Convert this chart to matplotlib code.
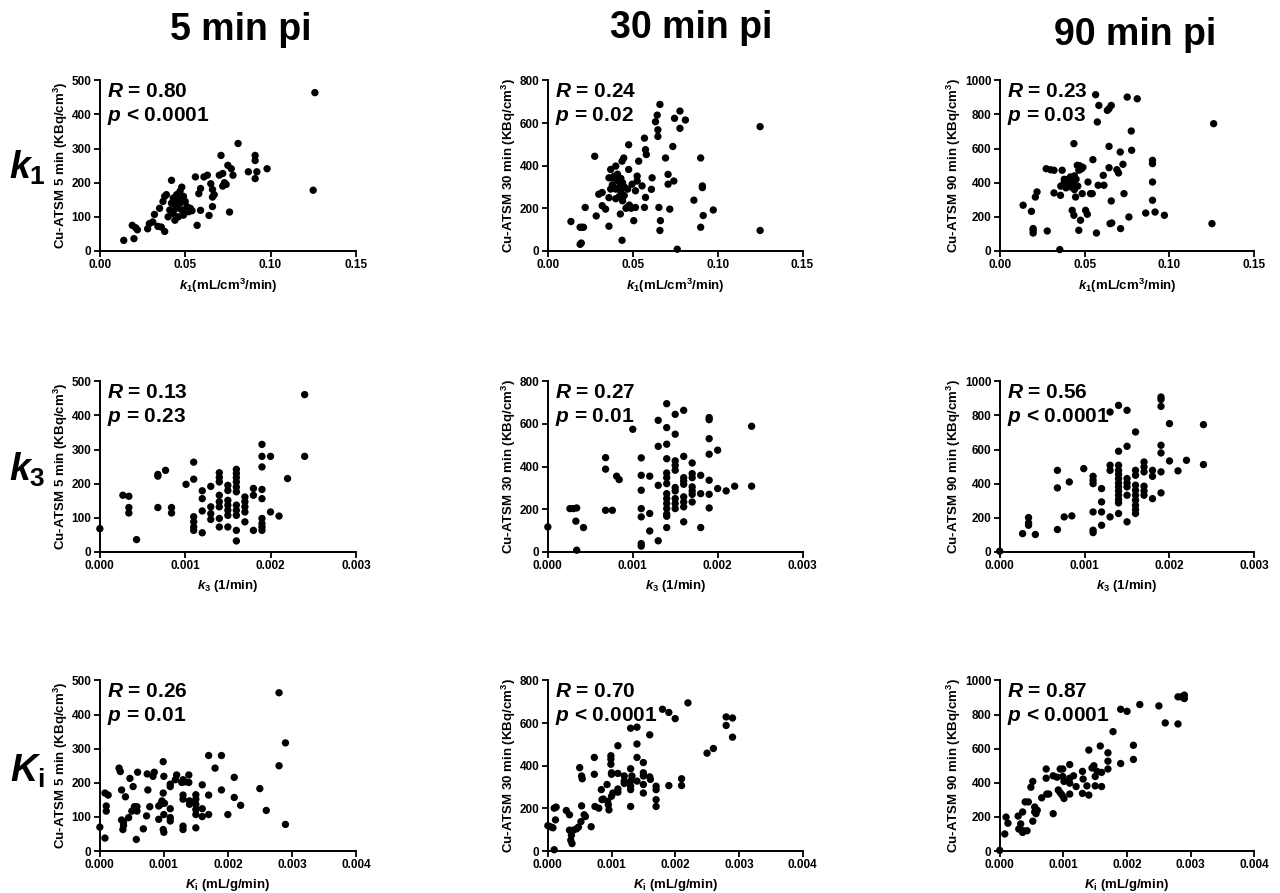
import numpy as np
import matplotlib
matplotlib.use("Agg")
import matplotlib.pyplot as plt
from matplotlib.ticker import FormatStrFormatter

plt.rcParams['font.family'] = ['Liberation Sans', 'DejaVu Sans']
plt.rcParams['font.weight'] = 'bold'
plt.rcParams['mathtext.fontset'] = 'custom'
plt.rcParams['mathtext.rm'] = 'Liberation Sans:bold'
plt.rcParams['mathtext.it'] = 'Liberation Sans:italic:bold'
plt.rcParams['mathtext.bf'] = 'Liberation Sans:bold'

# ---- data: (x, y) per panel ----
k1_5min = [(0.014, 31), (0.020, 36), (0.019, 75), (0.021, 68), (0.022, 62), (0.028, 65), (0.029, 80),
           (0.031, 85), (0.032, 107), (0.034, 72), (0.036, 70), (0.038, 57), (0.035, 125), (0.037, 145),
           (0.038, 160), (0.039, 165), (0.040, 100), (0.041, 120), (0.042, 207), (0.042, 140), (0.043, 155),
           (0.043, 110), (0.044, 90), (0.044, 135), (0.045, 165), (0.045, 125), (0.046, 150), (0.046, 100),
           (0.047, 175), (0.047, 140), (0.048, 187), (0.048, 120), (0.049, 160), (0.049, 105), (0.050, 145),
           (0.051, 130), (0.052, 115), (0.053, 125), (0.054, 118), (0.056, 217), (0.057, 75), (0.058, 168),
           (0.059, 183), (0.059, 119), (0.061, 217), (0.063, 222), (0.064, 104), (0.065, 197), (0.066, 180),
           (0.066, 158), (0.066, 130), (0.067, 165), (0.071, 280), (0.070, 222), (0.072, 227), (0.072, 190),
           (0.073, 200), (0.074, 195), (0.075, 251), (0.076, 114), (0.077, 241), (0.078, 222), (0.081, 315),
           (0.087, 232), (0.091, 280), (0.091, 265), (0.091, 212), (0.092, 232), (0.098, 241), (0.125, 178),
           (0.126, 464)]

k1_30min = [(0.0136, 138), (0.019, 111), (0.020, 111), (0.021, 111), (0.019, 31), (0.0197, 37), (0.022, 204),
            (0.0276, 444), (0.0285, 164), (0.030, 266), (0.032, 274), (0.032, 212), (0.034, 196), (0.036, 343),
            (0.037, 382), (0.038, 343), (0.036, 116), (0.040, 398), (0.0437, 421), (0.0447, 436), (0.0437, 50),
            (0.0427, 173), (0.0476, 382), (0.0476, 498), (0.0467, 204), (0.0506, 142), (0.0516, 204),
            (0.0496, 313), (0.0526, 351), (0.0526, 328), (0.0516, 282), (0.0535, 421), (0.0555, 305),
            (0.0569, 529), (0.0575, 475), (0.058, 452), (0.0575, 251), (0.0569, 204), (0.0614, 343),
            (0.061, 289), (0.0634, 606), (0.0644, 637), (0.0648, 568), (0.0648, 537), (0.066, 687),
            (0.0654, 204), (0.0663, 142), (0.066, 96), (0.0693, 436), (0.0708, 359), (0.0708, 313),
            (0.0718, 196), (0.0736, 490), (0.0742, 328), (0.0746, 622), (0.0762, 8), (0.0778, 656),
            (0.0778, 575), (0.081, 614), (0.086, 238), (0.090, 436), (0.090, 111), (0.091, 305), (0.091, 297),
            (0.0915, 166), (0.0974, 192), (0.125, 583), (0.125, 96), (0.037, 290), (0.038, 310), (0.039, 350),
            (0.040, 290), (0.041, 330), (0.041, 360), (0.042, 255), (0.042, 300), (0.043, 340), (0.043, 280),
            (0.044, 320), (0.044, 235), (0.045, 300), (0.045, 260), (0.046, 200), (0.047, 290), (0.048, 215),
            (0.049, 200), (0.040, 245), (0.036, 250)]

k1_90min = [(0.0138, 268), (0.0187, 232), (0.0197, 131), (0.0197, 105), (0.0197, 121), (0.021, 316),
            (0.022, 346), (0.028, 117), (0.0274, 482), (0.030, 476), (0.032, 473), (0.032, 340), (0.0354, 8),
            (0.0358, 326), (0.0368, 473), (0.0417, 434), (0.0437, 629), (0.0427, 238), (0.0437, 209),
            (0.0447, 316), (0.0457, 502), (0.0466, 473), (0.0466, 121), (0.0476, 180), (0.0486, 336),
            (0.0506, 238), (0.0516, 215), (0.052, 404), (0.0535, 336), (0.0545, 336), (0.0549, 535),
            (0.057, 105), (0.0565, 916), (0.0575, 756), (0.0584, 853), (0.058, 385), (0.061, 443),
            (0.0614, 385), (0.0634, 824), (0.0644, 834), (0.0657, 853), (0.0644, 613), (0.0644, 488),
            (0.065, 160), (0.066, 164), (0.0657, 293), (0.069, 476), (0.070, 457), (0.071, 580), (0.0712, 131),
            (0.0726, 508), (0.0732, 336), (0.0751, 902), (0.0761, 199), (0.0775, 703), (0.0777, 590),
            (0.081, 892), (0.086, 222), (0.090, 531), (0.090, 512), (0.090, 404), (0.090, 297), (0.0915, 228),
            (0.097, 209), (0.125, 160), (0.126, 746), (0.036, 380), (0.038, 400), (0.039, 370), (0.040, 420),
            (0.041, 390), (0.042, 375), (0.043, 400), (0.044, 440), (0.045, 420), (0.046, 380), (0.047, 500),
            (0.048, 480), (0.049, 490), (0.044, 360), (0.038, 420)]

k3_5min = [(0.0, 68), (0.00027, 166), (0.00034, 163), (0.00034, 130), (0.00034, 114), (0.00043, 36),
           (0.00068, 222), (0.00068, 227), (0.00077, 239), (0.00068, 130), (0.00084, 130), (0.00084, 114),
           (0.00101, 198), (0.0011, 263), (0.0011, 213), (0.0011, 103), (0.0011, 88), (0.0011, 73), (0.0011, 63),
           (0.0012, 179), (0.0012, 156), (0.0012, 120), (0.0012, 56), (0.0013, 192), (0.0013, 132),
           (0.0013, 112), (0.0013, 95), (0.0014, 232), (0.0014, 218), (0.0014, 205), (0.0014, 166),
           (0.0014, 147), (0.0014, 132), (0.0014, 98), (0.0014, 73), (0.0015, 195), (0.0015, 180),
           (0.0015, 151), (0.0015, 137), (0.0015, 122), (0.0015, 107), (0.0015, 73), (0.0016, 242),
           (0.0016, 230), (0.0016, 218), (0.0016, 205), (0.0016, 190), (0.0016, 176), (0.0016, 137),
           (0.0016, 122), (0.0016, 107), (0.0016, 63), (0.0016, 32), (0.0017, 161), (0.0017, 147),
           (0.0017, 132), (0.0017, 117), (0.0017, 88), (0.0018, 186), (0.0018, 166), (0.0018, 63),
           (0.0019, 315), (0.0019, 280), (0.0019, 249), (0.0019, 183), (0.0019, 156), (0.0019, 98),
           (0.0019, 83), (0.0019, 73), (0.0019, 63), (0.002, 280), (0.002, 117), (0.0021, 105), (0.0022, 215),
           (0.0024, 461), (0.0024, 280)]

k3_30min = [(0.0, 117), (0.00026, 203), (0.0003, 203), (0.00034, 206), (0.00033, 144), (0.00034, 8),
            (0.00042, 114), (0.00068, 442), (0.00068, 388), (0.00068, 195), (0.00076, 195), (0.00081, 355),
            (0.00084, 339), (0.001, 575), (0.0011, 441), (0.0011, 359), (0.0011, 289), (0.0011, 203),
            (0.0011, 164), (0.0011, 39), (0.0011, 27), (0.0012, 355), (0.0012, 180), (0.0012, 98), (0.0013, 617),
            (0.0013, 495), (0.0013, 312), (0.0013, 52), (0.0014, 695), (0.0014, 583), (0.0014, 505),
            (0.0014, 437), (0.0014, 370), (0.0014, 348), (0.0014, 320), (0.0014, 273), (0.0014, 250),
            (0.0014, 227), (0.0014, 203), (0.0014, 177), (0.0014, 167), (0.0014, 114), (0.0015, 645),
            (0.0015, 552), (0.0015, 427), (0.0015, 406), (0.0015, 383), (0.0015, 302), (0.0015, 286),
            (0.0015, 250), (0.0015, 227), (0.0015, 203), (0.0016, 664), (0.0016, 448), (0.0016, 348),
            (0.0016, 333), (0.0016, 317), (0.0016, 258), (0.0016, 234), (0.0016, 211), (0.0016, 141),
            (0.0017, 417), (0.0017, 367), (0.0017, 348), (0.0017, 305), (0.0017, 286), (0.0017, 270),
            (0.0017, 234), (0.0018, 359), (0.0018, 273), (0.0018, 114), (0.0019, 630), (0.0019, 620),
            (0.0019, 531), (0.0019, 458), (0.0019, 336), (0.0019, 270), (0.0019, 206), (0.002, 477),
            (0.002, 297), (0.0021, 286), (0.0022, 308), (0.0024, 589), (0.0024, 308)]

k3_90min = [(0.0, 4), (0.00027, 107), (0.00034, 201), (0.00034, 170), (0.00034, 156), (0.00042, 102),
            (0.00068, 478), (0.00068, 375), (0.00068, 131), (0.00076, 205), (0.00082, 410), (0.00085, 211),
            (0.00099, 488), (0.0011, 443), (0.0011, 420), (0.0011, 400), (0.0011, 234), (0.0011, 127),
            (0.0011, 113), (0.0012, 371), (0.0012, 293), (0.0012, 234), (0.0012, 156), (0.0013, 820),
            (0.0013, 508), (0.0013, 478), (0.0013, 205), (0.0014, 859), (0.0014, 590), (0.0014, 508),
            (0.0014, 478), (0.0014, 455), (0.0014, 430), (0.0014, 404), (0.0014, 381), (0.0014, 357),
            (0.0014, 332), (0.0014, 307), (0.0014, 287), (0.0014, 225), (0.0015, 830), (0.0015, 619),
            (0.0015, 430), (0.0015, 404), (0.0015, 381), (0.0015, 332), (0.0015, 176), (0.0016, 703),
            (0.0016, 478), (0.0016, 449), (0.0016, 391), (0.0016, 361), (0.0016, 332), (0.0016, 303),
            (0.0016, 273), (0.0016, 248), (0.0016, 225), (0.0017, 527), (0.0017, 498), (0.0017, 469),
            (0.0017, 385), (0.0017, 357), (0.0017, 332), (0.0018, 478), (0.0018, 443), (0.0018, 312),
            (0.0019, 908), (0.0019, 894), (0.0019, 853), (0.0019, 625), (0.0019, 580), (0.0019, 469),
            (0.0019, 346), (0.002, 752), (0.002, 533), (0.0021, 475), (0.0022, 537), (0.0024, 746),
            (0.0024, 512)]

ki_5min = [(0.0, 70), (0.00008, 38), (0.00008, 170), (0.00013, 164), (0.0001, 132), (0.0001, 117),
           (0.0003, 243), (0.00032, 233), (0.00034, 179), (0.00034, 91), (0.00037, 85), (0.00037, 75),
           (0.00036, 63), (0.0004, 159), (0.00045, 98), (0.00047, 213), (0.00052, 189), (0.0005, 117),
           (0.00054, 130), (0.00055, 122), (0.00057, 34), (0.00059, 231), (0.00058, 130), (0.00058, 117),
           (0.00068, 65), (0.00073, 103), (0.00074, 226), (0.00075, 179), (0.00078, 130), (0.00083, 219),
           (0.00085, 231), (0.00092, 93), (0.00092, 132), (0.00095, 137), (0.00099, 262), (0.001, 219),
           (0.00099, 170), (0.00097, 147), (0.00101, 140), (0.001, 107), (0.00099, 63), (0.001, 55),
           (0.0011, 189), (0.0011, 196), (0.0011, 124), (0.0011, 98), (0.0011, 88), (0.0012, 223),
           (0.00118, 209), (0.0013, 209), (0.00133, 203), (0.00128, 201), (0.0013, 164), (0.0013, 152),
           (0.0013, 73), (0.0013, 63), (0.00139, 223), (0.00139, 201), (0.0014, 147), (0.0014, 137),
           (0.0015, 165), (0.0015, 152), (0.0015, 137), (0.0015, 122), (0.0015, 107), (0.0015, 68),
           (0.0016, 194), (0.0016, 124), (0.0016, 101), (0.0017, 280), (0.0017, 164), (0.0017, 107),
           (0.0018, 243), (0.0019, 280), (0.0019, 179), (0.002, 107), (0.0021, 216), (0.0021, 157),
           (0.0022, 134), (0.0025, 183), (0.0026, 119), (0.0028, 464), (0.0028, 250), (0.0029, 317),
           (0.0029, 78)]

ki_30min = [(0.0, 119), (0.00004, 114), (0.00008, 109), (0.0001, 201), (0.00013, 206), (0.00012, 146),
            (0.0001, 6), (0.00029, 190), (0.00034, 170), (0.00034, 98), (0.00036, 51), (0.00038, 35),
            (0.00037, 74), (0.0004, 98), (0.00045, 104), (0.00048, 112), (0.0005, 391), (0.00053, 352),
            (0.00054, 339), (0.00053, 212), (0.00052, 138), (0.00057, 170), (0.00059, 162), (0.00068, 114),
            (0.00073, 439), (0.00073, 360), (0.00074, 209), (0.0008, 201), (0.00084, 288), (0.00085, 241),
            (0.00087, 244), (0.00093, 312), (0.00094, 233), (0.00095, 217), (0.00096, 193), (0.00099, 447),
            (0.00099, 431), (0.00099, 407), (0.001, 360), (0.001, 367), (0.001, 257), (0.00102, 272),
            (0.0011, 494), (0.0011, 364), (0.0011, 291), (0.0011, 276), (0.0012, 352), (0.0012, 328),
            (0.0012, 317), (0.0013, 209), (0.0013, 576), (0.0013, 386), (0.00132, 352), (0.0013, 328),
            (0.0013, 304), (0.0013, 288), (0.0014, 581), (0.0014, 502), (0.0014, 439), (0.0014, 328),
            (0.0015, 415), (0.0015, 367), (0.0015, 352), (0.0015, 312), (0.0015, 272), (0.0016, 545),
            (0.0016, 348), (0.00161, 336), (0.0017, 304), (0.0017, 288), (0.0017, 241), (0.0017, 209),
            (0.0018, 665), (0.0019, 650), (0.0019, 307), (0.002, 621), (0.0021, 339), (0.0021, 307),
            (0.0022, 695), (0.0025, 459), (0.0026, 481), (0.0028, 629), (0.0028, 589), (0.0029, 624),
            (0.0029, 534)]

ki_90min = [(0.0, 4), (0.00008, 100), (0.0001, 199), (0.00013, 163), (0.00029, 205), (0.0003, 129),
            (0.00033, 159), (0.00036, 109), (0.00037, 119), (0.00036, 229), (0.0004, 288), (0.00045, 288),
            (0.00043, 119), (0.00049, 374), (0.00052, 408), (0.00052, 175), (0.00055, 258), (0.00055, 229),
            (0.00057, 219), (0.00059, 239), (0.00066, 312), (0.00073, 481), (0.00073, 427), (0.00074, 334),
            (0.00077, 334), (0.00084, 219), (0.00084, 441), (0.0009, 433), (0.00092, 358), (0.00095, 481),
            (0.00099, 481), (0.00099, 437), (0.00101, 408), (0.00095, 342), (0.00098, 328), (0.00101, 308),
            (0.0011, 507), (0.0011, 427), (0.0011, 398), (0.0011, 334), (0.00116, 441), (0.0012, 378),
            (0.0013, 467), (0.00131, 422), (0.0013, 338), (0.00137, 382), (0.0014, 592), (0.0014, 328),
            (0.00145, 487), (0.00148, 500), (0.0015, 437), (0.00153, 467), (0.0015, 382), (0.00158, 616),
            (0.0016, 461), (0.0016, 378), (0.0017, 576), (0.0017, 527), (0.0017, 481), (0.00178, 700),
            (0.0019, 513), (0.0019, 831), (0.002, 819), (0.0021, 620), (0.0021, 537), (0.0022, 859),
            (0.0025, 851), (0.0026, 751), (0.0028, 904), (0.00285, 904), (0.0029, 914), (0.0029, 894),
            (0.0028, 745)]

R_text = [['0.80', '0.24', '0.23'], ['0.13', '0.27', '0.56'], ['0.26', '0.70', '0.87']]
p_text = [['< 0.0001', '= 0.02', '= 0.03'], ['= 0.23', '= 0.01', '< 0.0001'], ['= 0.01', '< 0.0001', '< 0.0001']]

panels = [[k1_5min, k1_30min, k1_90min], [k3_5min, k3_30min, k3_90min], [ki_5min, ki_30min, ki_90min]]

x_labels = [r'$k_1$(mL/cm$^3$/min)', r'$k_3$ (1/min)', r'$K_\mathrm{i}$ (mL/g/min)']
x_lims = [0.15, 0.003, 0.004]
x_ticks = [[0, 0.05, 0.10, 0.15], [0, 0.001, 0.002, 0.003], [0, 0.001, 0.002, 0.003, 0.004]]
x_fmt = ['%.2f', '%.3f', '%.3f']

y_labels = ['Cu-ATSM 5 min (KBq/cm$^3$)', 'Cu-ATSM 30 min (KBq/cm$^3$)', 'Cu-ATSM 90 min (KBq/cm$^3$)']
y_lims = [500, 800, 1000]
y_steps = [100, 200, 200]

col_titles = ['5 min pi', '30 min pi', '90 min pi']
row_titles = [r'$k_1$', r'$k_3$', r'$K_\mathrm{i}$']

fig = plt.figure(figsize=(12.8, 8.93), dpi=100)

lefts = [0.078, 0.428, 0.781]
widths = [0.200, 0.199, 0.199]
bottoms = [0.719, 0.382, 0.047]
height = 0.191

for r in range(3):
    for c in range(3):
        ax = fig.add_axes([lefts[c], bottoms[r], widths[c], height])
        pts = np.array(panels[r][c])
        ax.scatter(pts[:, 0], pts[:, 1], s=28, c='black', edgecolors='none', clip_on=False, zorder=3)
        ax.set_xlim(0, x_lims[r])
        ax.set_ylim(0, y_lims[c])
        ax.set_xticks(x_ticks[r])
        ax.set_yticks(np.arange(0, y_lims[c] + 1, y_steps[c]))
        ax.xaxis.set_major_formatter(FormatStrFormatter(x_fmt[r]))
        for s in ['top', 'right']:
            ax.spines[s].set_visible(False)
        for s in ['left', 'bottom']:
            ax.spines[s].set_linewidth(1.4)
        ax.tick_params(direction='out', length=4, width=1.3, labelsize=8.5, pad=2)
        for lab in ax.get_xticklabels() + ax.get_yticklabels():
            lab.set_fontweight('bold')
        ax.set_xlabel(x_labels[r], fontsize=9.5, fontweight='bold', labelpad=4)
        ax.set_ylabel(y_labels[c], fontsize=9.5, fontweight='bold', labelpad=1)
        ax.text(0.027, 0.99, r'$R$ = ' + R_text[r][c], transform=ax.transAxes,
                va='top', ha='left', fontsize=15, fontweight='bold')
        ax.text(0.027, 0.855, r'$p$ ' + p_text[r][c], transform=ax.transAxes,
                va='top', ha='left', fontsize=15, fontweight='bold')

title_x = [0.188, 0.540, 0.887]
title_y = [0.966, 0.969, 0.961]
for c in range(3):
    fig.text(title_x[c], title_y[c], col_titles[c], ha='center', va='center', fontsize=27, fontweight='bold')

row_y = [0.812, 0.474, 0.136]
for r in range(3):
    fig.text(0.021, row_y[r], row_titles[r], ha='center', va='center', fontsize=27, fontweight='bold')

fig.savefig('out.png', dpi=100)
